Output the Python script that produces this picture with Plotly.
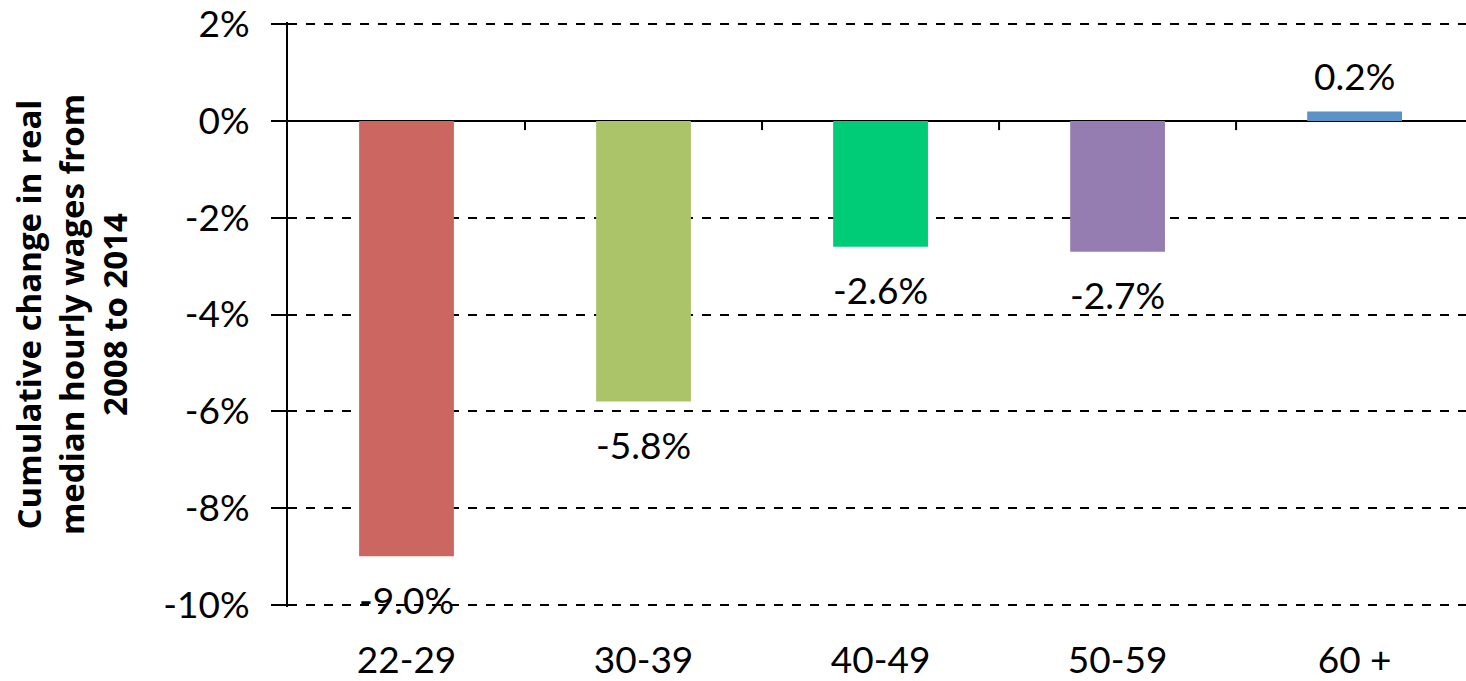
import plotly.graph_objects as go

# Age groups and cumulative change in real median hourly wages, 2008-2014 (%)
age_groups = ["22-29", "30-39", "40-49", "50-59", "60 +"]
wage_change = [-9.0, -5.8, -2.6, -2.7, 0.2]
bar_colors = ["#CC6660", "#ABC46A", "#00CC78", "#957DB1", "#5B93C8"]

y_ticks = [2, 0, -2, -4, -6, -8, -10]
y_tick_text = ["2%", "0%", "-2%", "-4%", "-6%", "-8%", "-10%"]

FONT = "Lato, 'Open Sans', sans-serif"
TITLE_FONT = "'Open Sans', Lato, sans-serif"

fig = go.Figure(
    go.Bar(
        x=list(range(len(age_groups))),
        y=wage_change,
        marker=dict(color=bar_colors, line=dict(width=0)),
        width=0.4,
        hoverinfo="skip",
    )
)

# Value labels: below the end of negative bars, above positive ones
for i, v in enumerate(wage_change):
    fig.add_annotation(
        x=i, y=v, xref="x", yref="y",
        text=f"{v:.1f}%",
        showarrow=False,
        yanchor="middle",
        yshift=36 if v > 0 else -43,
        font=dict(family=FONT, size=37, color="#000000"),
    )

# Small category-separator ticks hanging below the zero line
for i in range(len(age_groups) - 1):
    fig.add_shape(
        type="line", xref="x", yref="y",
        x0=i + 0.5, x1=i + 0.5,
        ysizemode="pixel", yanchor=0, y0=0, y1=-9,
        line=dict(color="#000000", width=2),
    )

fig.update_layout(
    width=1466, height=681,
    margin=dict(l=288, r=0, t=16, b=70),
    paper_bgcolor="#FFFFFF",
    plot_bgcolor="#FFFFFF",
    showlegend=False,
    font=dict(family=FONT, size=37, color="#000000"),
)

fig.update_xaxes(
    range=[-0.5, 4.47],
    tickvals=list(range(len(age_groups))),
    ticktext=age_groups,
    showgrid=False,
    showline=False,
    zeroline=False,
    ticks="",
    ticklabelstandoff=28,
    tickfont=dict(family=FONT, size=37, color="#000000"),
)

fig.update_yaxes(
    range=[-10.05, 2.05],
    tickvals=y_ticks,
    ticktext=y_tick_text,
    showgrid=True,
    gridcolor="#000000",
    gridwidth=1.5,
    griddash="dash",
    zeroline=True,
    zerolinecolor="#000000",
    zerolinewidth=2,
    showline=True,
    linecolor="#000000",
    linewidth=2,
    ticks="outside",
    ticklen=15,
    tickwidth=2,
    tickcolor="#000000",
    ticklabelstandoff=14,
    ticklabeloverflow="allow",
    tickfont=dict(family=FONT, size=37, color="#000000"),
    title=dict(
        text="<b>Cumulative change in real<br>median hourly wages from<br>2008 to 2014</b>",
        font=dict(family=TITLE_FONT, size=33, color="#000000"),
        standoff=26,
    ),
)

fig.write_html("out.html")
